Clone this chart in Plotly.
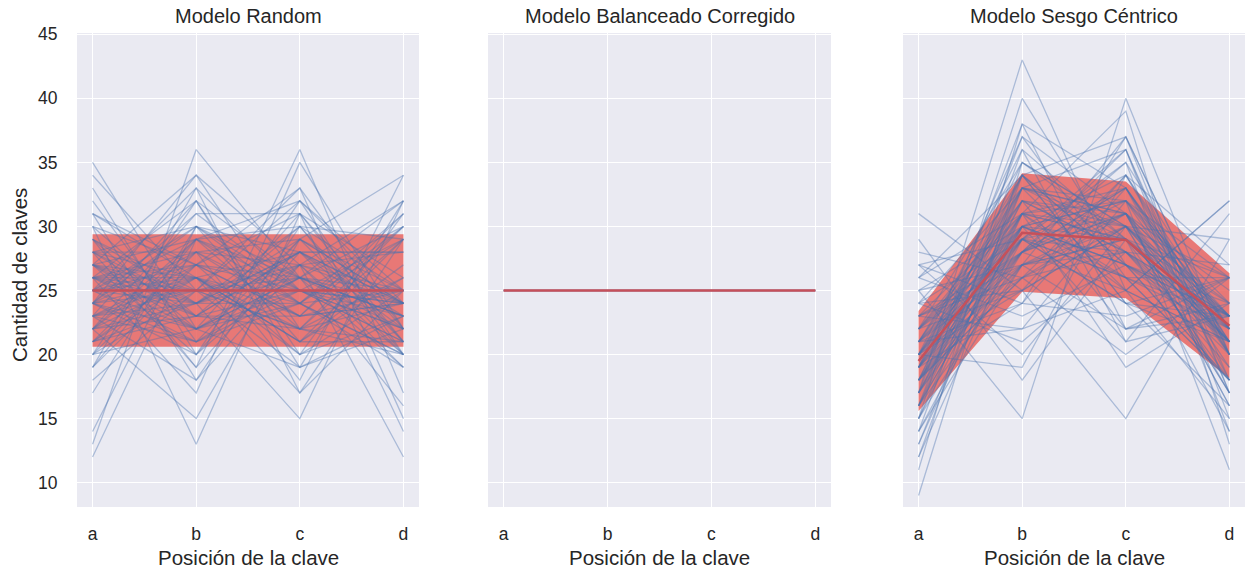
import plotly.graph_objects as go

positions = ["a", "b", "c", "d"]

# Modelo Random: one row per run (a, b, c, d)
random_runs = [
    [12, 29, 30, 29], [13, 36, 26, 25], [14, 30, 28, 28], [35, 22, 24, 19],
    [34, 25, 19, 22], [33, 20, 27, 20], [31, 18, 30, 21], [30, 13, 31, 26],
    [29, 24, 15, 32], [28, 19, 36, 17], [27, 34, 27, 12], [26, 23, 22, 29],
    [25, 27, 33, 15], [24, 31, 31, 14], [23, 32, 20, 25], [22, 15, 29, 34],
    [21, 26, 23, 30], [20, 28, 18, 34], [19, 33, 25, 23], [18, 25, 32, 25],
    [17, 30, 24, 29], [26, 17, 35, 22], [27, 22, 19, 32], [25, 33, 17, 25],
    [23, 21, 26, 30], [31, 26, 22, 21], [28, 30, 21, 21], [24, 20, 32, 24],
    [22, 28, 29, 21], [29, 25, 25, 21], [20, 32, 26, 22], [26, 24, 30, 20],
    [30, 27, 20, 23], [21, 23, 28, 28], [25, 22, 31, 22], [19, 27, 23, 31],
    [27, 29, 24, 20], [23, 18, 27, 32], [28, 24, 28, 20], [24, 26, 21, 29],
    [32, 21, 25, 22], [20, 25, 33, 22], [26, 32, 19, 23], [22, 24, 24, 30],
    [29, 19, 28, 24], [25, 30, 26, 19], [21, 27, 31, 21], [30, 23, 23, 24],
    [23, 26, 20, 31], [27, 20, 29, 24], [24, 34, 22, 20], [26, 28, 27, 19],
    [20, 22, 26, 32], [28, 26, 17, 29], [22, 31, 25, 22], [25, 24, 28, 23],
    [31, 27, 26, 16], [19, 29, 32, 20], [24, 21, 24, 31], [27, 25, 22, 26],
    [23, 27, 25, 25], [26, 22, 27, 25], [24, 28, 23, 25], [27, 24, 26, 23],
    [22, 26, 28, 24], [25, 29, 22, 24], [28, 23, 25, 24], [24, 25, 27, 24],
    [21, 29, 26, 24], [26, 26, 21, 27], [23, 24, 29, 24], [29, 22, 26, 23],
    [25, 26, 24, 25], [22, 29, 25, 24], [27, 23, 28, 22], [24, 22, 25, 29],
    [26, 27, 23, 24], [23, 25, 22, 30], [28, 28, 24, 20], [21, 24, 27, 28],
    [25, 21, 29, 25], [27, 26, 21, 26], [24, 30, 25, 21], [22, 23, 30, 25],
    [26, 25, 26, 23],
]
random_mean = [25.0, 25.0, 25.0, 25.0]
random_low = [20.6, 20.6, 20.6, 20.6]
random_high = [29.4, 29.4, 29.4, 29.4]

# Modelo Balanceado Corregido
balanced_runs = [
    [25, 25, 25, 25], [25, 25, 25, 25], [25, 25, 25, 25], [25, 25, 25, 25],
]
balanced_mean = [25.0, 25.0, 25.0, 25.0]
balanced_low = [25.0, 25.0, 25.0, 25.0]
balanced_high = [25.0, 25.0, 25.0, 25.0]

# Modelo Sesgo Céntrico
centric_runs = [
    [9, 35, 30, 26], [11, 38, 33, 18], [12, 34, 37, 17], [13, 31, 32, 24],
    [14, 36, 29, 21], [14, 29, 35, 22], [15, 33, 31, 21], [15, 40, 27, 18],
    [16, 30, 34, 20], [16, 27, 37, 20], [17, 32, 28, 23], [17, 43, 25, 15],
    [18, 29, 33, 20], [18, 35, 30, 17], [18, 26, 31, 25], [19, 31, 29, 21],
    [19, 28, 36, 17], [19, 37, 26, 18], [20, 30, 27, 23], [20, 25, 34, 21],
    [20, 33, 30, 17], [21, 27, 29, 23], [21, 34, 24, 21], [21, 24, 33, 22],
    [22, 30, 26, 22], [22, 28, 31, 19], [22, 32, 22, 24], [23, 26, 28, 23],
    [23, 31, 25, 21], [23, 22, 32, 23], [24, 29, 24, 23], [24, 25, 30, 21],
    [25, 27, 22, 26], [25, 15, 40, 20], [26, 23, 27, 24], [26, 31, 19, 24],
    [27, 24, 23, 26], [27, 20, 30, 23], [28, 26, 20, 26], [29, 18, 29, 24],
    [31, 25, 15, 29], [17, 38, 22, 23], [16, 34, 27, 23], [20, 36, 21, 23],
    [19, 24, 37, 20], [13, 33, 36, 18], [15, 28, 25, 32], [21, 22, 25, 32],
    [18, 30, 21, 31], [14, 27, 30, 29], [24, 33, 32, 11], [22, 35, 29, 14],
    [17, 31, 39, 13], [20, 29, 36, 15], [16, 37, 31, 16], [23, 28, 35, 14],
    [19, 34, 28, 19], [25, 30, 27, 18], [21, 32, 31, 16], [18, 26, 34, 22],
    [27, 29, 26, 18], [15, 31, 33, 21], [20, 19, 34, 27], [24, 21, 28, 27],
    [12, 30, 32, 26], [26, 34, 24, 16],
    [18, 31, 30, 21], [20, 28, 32, 20], [17, 33, 29, 21], [21, 30, 27, 22],
    [19, 27, 31, 23], [22, 29, 28, 21], [16, 32, 30, 22], [20, 31, 26, 23],
    [18, 28, 33, 21], [21, 33, 25, 21], [19, 30, 29, 22], [23, 27, 28, 22],
    [17, 29, 31, 23], [20, 26, 30, 24], [22, 31, 29, 18], [18, 34, 27, 21],
    [19, 29, 26, 26], [21, 28, 31, 20], [16, 30, 32, 22], [20, 32, 28, 20],
    [22, 25, 30, 23], [18, 27, 29, 26], [19, 33, 31, 17], [21, 29, 24, 26],
    [17, 28, 33, 22],
]
centric_mean = [19.5, 29.5, 28.95, 22.25]
centric_low = [15.6, 24.9, 24.4, 18.15]
centric_high = [23.4, 34.15, 33.5, 26.35]

titles = ["Modelo Random", "Modelo Balanceado Corregido", "Modelo Sesgo Céntrico"]
x_title = "Posición de la clave"
y_title = "Cantidad de claves"
y_ticks = [10, 15, 20, 25, 30, 35, 40, 45]

panels = [
    (random_runs, random_mean, random_low, random_high),
    (balanced_runs, balanced_mean, balanced_low, balanced_high),
    (centric_runs, centric_mean, centric_low, centric_high),
]

W, H = 1245, 573
px_dom = [(77, 419), (488, 831), (903, 1245)]
top_px, bot_px = 33, 507

BLUE = "rgba(76,114,176,0.4)"
FILL = "rgba(232,100,96,0.85)"
MEAN = "rgb(198,80,90)"
FONT = "Liberation Sans, Arial, sans-serif"
TXT = "#262626"

xidx = list(range(len(positions)))
fig = go.Figure()
for i, (runs, mean, low, high) in enumerate(panels):
    xa = "x" if i == 0 else f"x{i+1}"
    ya = "y" if i == 0 else f"y{i+1}"
    fig.add_trace(go.Scatter(
        x=xidx + xidx[::-1], y=high + low[::-1], fill="toself",
        fillcolor=FILL, line=dict(width=0), mode="lines",
        hoverinfo="skip", showlegend=False, xaxis=xa, yaxis=ya))
    for run in runs:
        fig.add_trace(go.Scatter(
            x=xidx, y=run, mode="lines", line=dict(color=BLUE, width=1.3),
            showlegend=False, xaxis=xa, yaxis=ya))
    fig.add_trace(go.Scatter(
        x=xidx, y=mean, mode="lines", line=dict(color=MEAN, width=2.5),
        showlegend=False, xaxis=xa, yaxis=ya))

layout = dict(
    width=W, height=H, margin=dict(l=0, r=0, t=0, b=0),
    paper_bgcolor="white", plot_bgcolor="#eaeaf2",
    font=dict(family=FONT, size=17, color=TXT),
    showlegend=False,
)
ydom = [1 - bot_px / H, 1 - top_px / H]
for i, (l, r) in enumerate(px_dom):
    k = "" if i == 0 else str(i + 1)
    layout["xaxis" + k] = dict(
        domain=[l / W, r / W], range=[-0.15, 3.15],
        tickvals=xidx, ticktext=positions,
        showgrid=True, gridcolor="white", gridwidth=1.3, zeroline=False,
        ticks="outside", ticklen=11, tickcolor="rgba(0,0,0,0)",
        tickfont=dict(size=17.5, color=TXT), showline=False,
        anchor="y" if i == 0 else "y" + k, automargin=False,
    )
    layout["yaxis" + k] = dict(
        domain=ydom, range=[8.1, 45.1], tickvals=y_ticks,
        showgrid=True, gridcolor="white", gridwidth=1.3, zeroline=False,
        showticklabels=(i == 0), ticks="outside", ticklen=15,
        tickcolor="rgba(0,0,0,0)", tickfont=dict(size=17.5, color=TXT),
        anchor="x" if i == 0 else "x" + k, automargin=False,
    )
fig.update_layout(**layout)

ann = []
for i, (l, r) in enumerate(px_dom):
    cx = (l + r) / 2 / W
    ann.append(dict(text=titles[i], x=cx, y=1 - 16 / H, xref="paper", yref="paper",
                    showarrow=False, font=dict(size=20, color=TXT),
                    xanchor="center", yanchor="middle"))
    ann.append(dict(text=x_title, x=cx, y=1 - 557 / H, xref="paper", yref="paper",
                    showarrow=False, font=dict(size=20.5, color=TXT),
                    xanchor="center", yanchor="middle"))
ann.append(dict(text=y_title, x=19 / W, y=1 - 275 / H, xref="paper", yref="paper",
                showarrow=False, textangle=-90, font=dict(size=20.5, color=TXT),
                xanchor="center", yanchor="middle"))
fig.update_layout(annotations=ann)

fig.write_html("out.html")
